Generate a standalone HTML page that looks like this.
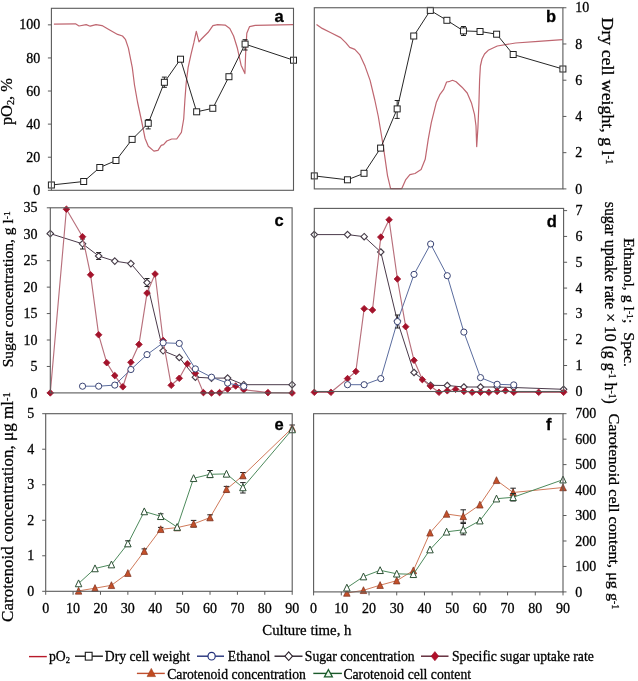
<!DOCTYPE html>
<html><head><meta charset="utf-8"><title>Figure</title>
<style>html,body{margin:0;padding:0;background:#fff;width:638px;height:681px;overflow:hidden;position:relative}
svg text{fill:#000;stroke:#000;stroke-width:0.28px} svg{will-change:transform}</style></head><body>
<svg width="638" height="681" viewBox="0 0 638 681" style="position:absolute;left:0;top:0">
<rect width="638" height="681" fill="#fff"/>
<path d="M47.90 190.30H51.4" stroke="#5a5a5a" stroke-width="1"/>
<text x="40.20" y="194.90" font-family='"Liberation Serif", serif' font-size="14.0" text-anchor="end" font-weight="normal" >0</text>
<path d="M47.90 157.21H51.4" stroke="#5a5a5a" stroke-width="1"/>
<text x="40.20" y="161.81" font-family='"Liberation Serif", serif' font-size="14.0" text-anchor="end" font-weight="normal" >20</text>
<path d="M47.90 124.12H51.4" stroke="#5a5a5a" stroke-width="1"/>
<text x="40.20" y="128.72" font-family='"Liberation Serif", serif' font-size="14.0" text-anchor="end" font-weight="normal" >40</text>
<path d="M47.90 91.03H51.4" stroke="#5a5a5a" stroke-width="1"/>
<text x="40.20" y="95.63" font-family='"Liberation Serif", serif' font-size="14.0" text-anchor="end" font-weight="normal" >60</text>
<path d="M47.90 57.94H51.4" stroke="#5a5a5a" stroke-width="1"/>
<text x="40.20" y="62.54" font-family='"Liberation Serif", serif' font-size="14.0" text-anchor="end" font-weight="normal" >80</text>
<path d="M47.90 24.85H51.4" stroke="#5a5a5a" stroke-width="1"/>
<text x="40.20" y="29.45" font-family='"Liberation Serif", serif' font-size="14.0" text-anchor="end" font-weight="normal" >100</text>
<polyline points="53.90,24.20 75.50,23.80 79.00,26.00 86.20,24.60 90.20,26.20 96.00,24.60 102.00,25.60 108.80,29.50 117.60,34.40 122.50,36.00 125.40,39.30 128.40,48.10 132.30,67.70 134.50,85.00 137.50,102.00 141.80,122.00 145.00,138.20 148.30,146.20 153.90,151.10 158.00,150.30 161.20,145.40 163.60,144.60 166.80,141.00 171.70,139.00 176.70,139.00 181.40,132.40 183.70,119.00 184.90,100.00 186.20,82.90 188.10,67.60 191.00,54.30 193.80,42.90 196.30,31.40 199.00,41.90 201.40,39.00 208.20,32.30 212.90,25.70 217.60,24.70 225.10,25.10 229.80,28.50 233.60,36.00 237.40,48.30 241.10,65.20 244.90,73.60 245.80,50.10 246.80,33.20 249.60,26.60 255.20,25.30 293.00,24.70" fill="none" stroke="#bf6670" stroke-width="1.2" stroke-linejoin="round"/>
<polyline points="51.40,185.00 83.68,181.50 99.82,167.50 115.96,160.50 132.10,139.40 148.24,123.30 164.38,82.30 180.52,59.20 196.66,111.80 212.80,108.30 228.94,76.70 245.08,44.10 293.50,60.20" fill="none" stroke="#262626" stroke-width="1.0" stroke-linejoin="round"/>
<path d="M148.24 119.50V128.90M145.74 119.50H150.74M145.74 128.90H150.74" stroke="#222" stroke-width="1" fill="none"/>
<path d="M164.38 77.10V87.30M161.88 77.10H166.88M161.88 87.30H166.88" stroke="#222" stroke-width="1" fill="none"/>
<path d="M245.08 39.70V50.00M242.58 39.70H247.58M242.58 50.00H247.58" stroke="#222" stroke-width="1" fill="none"/>
<rect x="48.40" y="182.00" width="6" height="6" fill="#fff" stroke="#222" stroke-width="1"/>
<rect x="80.68" y="178.50" width="6" height="6" fill="#fff" stroke="#222" stroke-width="1"/>
<rect x="96.82" y="164.50" width="6" height="6" fill="#fff" stroke="#222" stroke-width="1"/>
<rect x="112.96" y="157.50" width="6" height="6" fill="#fff" stroke="#222" stroke-width="1"/>
<rect x="129.10" y="136.40" width="6" height="6" fill="#fff" stroke="#222" stroke-width="1"/>
<rect x="145.24" y="120.30" width="6" height="6" fill="#fff" stroke="#222" stroke-width="1"/>
<rect x="161.38" y="79.30" width="6" height="6" fill="#fff" stroke="#222" stroke-width="1"/>
<rect x="177.52" y="56.20" width="6" height="6" fill="#fff" stroke="#222" stroke-width="1"/>
<rect x="193.66" y="108.80" width="6" height="6" fill="#fff" stroke="#222" stroke-width="1"/>
<rect x="209.80" y="105.30" width="6" height="6" fill="#fff" stroke="#222" stroke-width="1"/>
<rect x="225.94" y="73.70" width="6" height="6" fill="#fff" stroke="#222" stroke-width="1"/>
<rect x="242.08" y="41.10" width="6" height="6" fill="#fff" stroke="#222" stroke-width="1"/>
<rect x="290.50" y="57.20" width="6" height="6" fill="#fff" stroke="#222" stroke-width="1"/>
<rect x="51.4" y="8.3" width="242.10" height="182.00" fill="none" stroke="#5a5a5a" stroke-width="1.1"/>
<text x="283.80" y="22.00" font-family='"Liberation Sans", sans-serif' font-size="16.5" text-anchor="end" font-weight="bold" >a</text>
<path d="M562.90 188.90H566.40" stroke="#5a5a5a" stroke-width="1"/>
<text x="575.30" y="193.50" font-family='"Liberation Serif", serif' font-size="14.0" text-anchor="start" font-weight="normal" >0</text>
<path d="M562.90 152.67H566.40" stroke="#5a5a5a" stroke-width="1"/>
<text x="575.30" y="157.27" font-family='"Liberation Serif", serif' font-size="14.0" text-anchor="start" font-weight="normal" >2</text>
<path d="M562.90 116.44H566.40" stroke="#5a5a5a" stroke-width="1"/>
<text x="575.30" y="121.04" font-family='"Liberation Serif", serif' font-size="14.0" text-anchor="start" font-weight="normal" >4</text>
<path d="M562.90 80.21H566.40" stroke="#5a5a5a" stroke-width="1"/>
<text x="575.30" y="84.81" font-family='"Liberation Serif", serif' font-size="14.0" text-anchor="start" font-weight="normal" >6</text>
<path d="M562.90 43.98H566.40" stroke="#5a5a5a" stroke-width="1"/>
<text x="575.30" y="48.58" font-family='"Liberation Serif", serif' font-size="14.0" text-anchor="start" font-weight="normal" >8</text>
<path d="M562.90 7.75H566.40" stroke="#5a5a5a" stroke-width="1"/>
<text x="575.30" y="12.35" font-family='"Liberation Serif", serif' font-size="14.0" text-anchor="start" font-weight="normal" >10</text>
<polyline points="316.50,24.40 322.20,28.40 330.40,32.50 340.60,37.60 345.70,42.70 349.70,47.40 354.80,49.40 359.90,54.90 365.00,66.10 370.10,80.40 374.80,100.00 378.30,116.50 383.40,147.00 387.50,175.60 390.60,188.60 401.80,188.60 405.80,179.60 409.90,174.60 415.00,173.50 421.10,169.50 425.20,159.30 428.30,138.90 431.30,122.60 436.40,102.20 440.00,94.30 443.70,89.40 446.60,82.00 448.80,81.70 452.50,80.30 456.10,81.70 462.00,87.20 467.20,93.00 471.60,103.30 474.50,114.30 476.00,126.00 476.70,146.60 477.90,128.00 478.90,104.00 479.60,80.00 480.40,66.00 482.00,59.00 484.50,54.00 488.20,50.30 497.30,46.00 515.60,43.00 538.30,41.30 562.60,39.60" fill="none" stroke="#bf6670" stroke-width="1.2" stroke-linejoin="round"/>
<polyline points="314.30,175.90 347.45,179.80 364.02,173.30 380.59,148.10 397.17,108.90 413.74,36.00 430.31,10.40 446.89,20.30 463.46,30.90 480.03,31.50 496.61,34.20 513.18,54.50 562.90,69.00" fill="none" stroke="#262626" stroke-width="1.0" stroke-linejoin="round"/>
<path d="M397.17 100.50V118.40M394.67 100.50H399.67M394.67 118.40H399.67" stroke="#222" stroke-width="1" fill="none"/>
<path d="M463.46 26.50V35.50M460.96 26.50H465.96M460.96 35.50H465.96" stroke="#222" stroke-width="1" fill="none"/>
<rect x="311.30" y="172.90" width="6" height="6" fill="#fff" stroke="#222" stroke-width="1"/>
<rect x="344.45" y="176.80" width="6" height="6" fill="#fff" stroke="#222" stroke-width="1"/>
<rect x="361.02" y="170.30" width="6" height="6" fill="#fff" stroke="#222" stroke-width="1"/>
<rect x="377.59" y="145.10" width="6" height="6" fill="#fff" stroke="#222" stroke-width="1"/>
<rect x="394.17" y="105.90" width="6" height="6" fill="#fff" stroke="#222" stroke-width="1"/>
<rect x="410.74" y="33.00" width="6" height="6" fill="#fff" stroke="#222" stroke-width="1"/>
<rect x="427.31" y="7.40" width="6" height="6" fill="#fff" stroke="#222" stroke-width="1"/>
<rect x="443.89" y="17.30" width="6" height="6" fill="#fff" stroke="#222" stroke-width="1"/>
<rect x="460.46" y="27.90" width="6" height="6" fill="#fff" stroke="#222" stroke-width="1"/>
<rect x="477.03" y="28.50" width="6" height="6" fill="#fff" stroke="#222" stroke-width="1"/>
<rect x="493.61" y="31.20" width="6" height="6" fill="#fff" stroke="#222" stroke-width="1"/>
<rect x="510.18" y="51.50" width="6" height="6" fill="#fff" stroke="#222" stroke-width="1"/>
<rect x="559.90" y="66.00" width="6" height="6" fill="#fff" stroke="#222" stroke-width="1"/>
<rect x="314.3" y="7.75" width="248.60" height="181.15" fill="none" stroke="#5a5a5a" stroke-width="1.1"/>
<text x="556.20" y="22.00" font-family='"Liberation Sans", sans-serif' font-size="16.5" text-anchor="end" font-weight="bold" >b</text>
<path d="M46.80 392.90H50.3" stroke="#5a5a5a" stroke-width="1"/>
<text x="37.60" y="397.50" font-family='"Liberation Serif", serif' font-size="14.0" text-anchor="end" font-weight="normal" >0</text>
<path d="M46.80 366.46H50.3" stroke="#5a5a5a" stroke-width="1"/>
<text x="37.60" y="371.06" font-family='"Liberation Serif", serif' font-size="14.0" text-anchor="end" font-weight="normal" >5</text>
<path d="M46.80 340.01H50.3" stroke="#5a5a5a" stroke-width="1"/>
<text x="37.60" y="344.61" font-family='"Liberation Serif", serif' font-size="14.0" text-anchor="end" font-weight="normal" >10</text>
<path d="M46.80 313.57H50.3" stroke="#5a5a5a" stroke-width="1"/>
<text x="37.60" y="318.17" font-family='"Liberation Serif", serif' font-size="14.0" text-anchor="end" font-weight="normal" >15</text>
<path d="M46.80 287.13H50.3" stroke="#5a5a5a" stroke-width="1"/>
<text x="37.60" y="291.73" font-family='"Liberation Serif", serif' font-size="14.0" text-anchor="end" font-weight="normal" >20</text>
<path d="M46.80 260.69H50.3" stroke="#5a5a5a" stroke-width="1"/>
<text x="37.60" y="265.29" font-family='"Liberation Serif", serif' font-size="14.0" text-anchor="end" font-weight="normal" >25</text>
<path d="M46.80 234.24H50.3" stroke="#5a5a5a" stroke-width="1"/>
<text x="37.60" y="238.84" font-family='"Liberation Serif", serif' font-size="14.0" text-anchor="end" font-weight="normal" >30</text>
<path d="M46.80 207.80H50.3" stroke="#5a5a5a" stroke-width="1"/>
<text x="37.60" y="212.40" font-family='"Liberation Serif", serif' font-size="14.0" text-anchor="end" font-weight="normal" >35</text>
<polyline points="50.30,233.60 82.54,243.80 98.66,256.00 114.78,261.10 130.90,263.60 147.02,282.60 163.14,350.80 179.26,357.50 195.38,377.20 211.50,378.10 227.62,378.10 243.74,384.70 292.10,384.70" fill="none" stroke="#4a3a4a" stroke-width="1.0" stroke-linejoin="round"/>
<path d="M82.54 239.00V249.00M80.04 239.00H85.04M80.04 249.00H85.04" stroke="#222" stroke-width="1" fill="none"/>
<path d="M98.66 252.50V259.50M96.16 252.50H101.16M96.16 259.50H101.16" stroke="#222" stroke-width="1" fill="none"/>
<path d="M147.02 278.50V286.50M144.52 278.50H149.52M144.52 286.50H149.52" stroke="#222" stroke-width="1" fill="none"/>
<path d="M50.30 230.35L53.55 233.60L50.30 236.85L47.05 233.60Z" fill="#fff" stroke="#463c48" stroke-width="1.1"/>
<path d="M82.54 240.55L85.79 243.80L82.54 247.05L79.29 243.80Z" fill="#fff" stroke="#463c48" stroke-width="1.1"/>
<path d="M98.66 252.75L101.91 256.00L98.66 259.25L95.41 256.00Z" fill="#fff" stroke="#463c48" stroke-width="1.1"/>
<path d="M114.78 257.85L118.03 261.10L114.78 264.35L111.53 261.10Z" fill="#fff" stroke="#463c48" stroke-width="1.1"/>
<path d="M130.90 260.35L134.15 263.60L130.90 266.85L127.65 263.60Z" fill="#fff" stroke="#463c48" stroke-width="1.1"/>
<path d="M147.02 279.35L150.27 282.60L147.02 285.85L143.77 282.60Z" fill="#fff" stroke="#463c48" stroke-width="1.1"/>
<path d="M163.14 347.55L166.39 350.80L163.14 354.05L159.89 350.80Z" fill="#fff" stroke="#463c48" stroke-width="1.1"/>
<path d="M179.26 354.25L182.51 357.50L179.26 360.75L176.01 357.50Z" fill="#fff" stroke="#463c48" stroke-width="1.1"/>
<path d="M195.38 373.95L198.63 377.20L195.38 380.45L192.13 377.20Z" fill="#fff" stroke="#463c48" stroke-width="1.1"/>
<path d="M211.50 374.85L214.75 378.10L211.50 381.35L208.25 378.10Z" fill="#fff" stroke="#463c48" stroke-width="1.1"/>
<path d="M227.62 374.85L230.87 378.10L227.62 381.35L224.37 378.10Z" fill="#fff" stroke="#463c48" stroke-width="1.1"/>
<path d="M243.74 381.45L246.99 384.70L243.74 387.95L240.49 384.70Z" fill="#fff" stroke="#463c48" stroke-width="1.1"/>
<path d="M292.10 381.45L295.35 384.70L292.10 387.95L288.85 384.70Z" fill="#fff" stroke="#463c48" stroke-width="1.1"/>
<polyline points="50.30,392.90 66.42,209.20 82.54,236.70 90.60,274.80 98.66,334.80 106.72,362.70 114.78,375.60 122.84,386.80 130.90,362.30 138.96,344.40 147.02,293.10 155.08,274.00 163.14,340.50 171.20,385.30 179.26,378.30 187.32,363.80 195.38,373.30 203.44,392.60 211.50,393.00 219.56,392.60 227.62,389.10 235.68,386.00 243.74,389.70 267.92,392.60 292.10,393.00" fill="none" stroke="#b8707c" stroke-width="1.15" stroke-linejoin="round"/>
<path d="M50.30 389.60L53.60 392.90L50.30 396.20L47.00 392.90Z" fill="#a3132b" stroke="#a3132b" stroke-width="0.8"/>
<path d="M66.42 205.90L69.72 209.20L66.42 212.50L63.12 209.20Z" fill="#a3132b" stroke="#a3132b" stroke-width="0.8"/>
<path d="M82.54 233.40L85.84 236.70L82.54 240.00L79.24 236.70Z" fill="#a3132b" stroke="#a3132b" stroke-width="0.8"/>
<path d="M90.60 271.50L93.90 274.80L90.60 278.10L87.30 274.80Z" fill="#a3132b" stroke="#a3132b" stroke-width="0.8"/>
<path d="M98.66 331.50L101.96 334.80L98.66 338.10L95.36 334.80Z" fill="#a3132b" stroke="#a3132b" stroke-width="0.8"/>
<path d="M106.72 359.40L110.02 362.70L106.72 366.00L103.42 362.70Z" fill="#a3132b" stroke="#a3132b" stroke-width="0.8"/>
<path d="M114.78 372.30L118.08 375.60L114.78 378.90L111.48 375.60Z" fill="#a3132b" stroke="#a3132b" stroke-width="0.8"/>
<path d="M122.84 383.50L126.14 386.80L122.84 390.10L119.54 386.80Z" fill="#a3132b" stroke="#a3132b" stroke-width="0.8"/>
<path d="M130.90 359.00L134.20 362.30L130.90 365.60L127.60 362.30Z" fill="#a3132b" stroke="#a3132b" stroke-width="0.8"/>
<path d="M138.96 341.10L142.26 344.40L138.96 347.70L135.66 344.40Z" fill="#a3132b" stroke="#a3132b" stroke-width="0.8"/>
<path d="M147.02 289.80L150.32 293.10L147.02 296.40L143.72 293.10Z" fill="#a3132b" stroke="#a3132b" stroke-width="0.8"/>
<path d="M155.08 270.70L158.38 274.00L155.08 277.30L151.78 274.00Z" fill="#a3132b" stroke="#a3132b" stroke-width="0.8"/>
<path d="M163.14 337.20L166.44 340.50L163.14 343.80L159.84 340.50Z" fill="#a3132b" stroke="#a3132b" stroke-width="0.8"/>
<path d="M171.20 382.00L174.50 385.30L171.20 388.60L167.90 385.30Z" fill="#a3132b" stroke="#a3132b" stroke-width="0.8"/>
<path d="M179.26 375.00L182.56 378.30L179.26 381.60L175.96 378.30Z" fill="#a3132b" stroke="#a3132b" stroke-width="0.8"/>
<path d="M187.32 360.50L190.62 363.80L187.32 367.10L184.02 363.80Z" fill="#a3132b" stroke="#a3132b" stroke-width="0.8"/>
<path d="M195.38 370.00L198.68 373.30L195.38 376.60L192.08 373.30Z" fill="#a3132b" stroke="#a3132b" stroke-width="0.8"/>
<path d="M203.44 389.30L206.74 392.60L203.44 395.90L200.14 392.60Z" fill="#a3132b" stroke="#a3132b" stroke-width="0.8"/>
<path d="M211.50 389.70L214.80 393.00L211.50 396.30L208.20 393.00Z" fill="#a3132b" stroke="#a3132b" stroke-width="0.8"/>
<path d="M219.56 389.30L222.86 392.60L219.56 395.90L216.26 392.60Z" fill="#a3132b" stroke="#a3132b" stroke-width="0.8"/>
<path d="M227.62 385.80L230.92 389.10L227.62 392.40L224.32 389.10Z" fill="#a3132b" stroke="#a3132b" stroke-width="0.8"/>
<path d="M235.68 382.70L238.98 386.00L235.68 389.30L232.38 386.00Z" fill="#a3132b" stroke="#a3132b" stroke-width="0.8"/>
<path d="M243.74 386.40L247.04 389.70L243.74 393.00L240.44 389.70Z" fill="#a3132b" stroke="#a3132b" stroke-width="0.8"/>
<path d="M267.92 389.30L271.22 392.60L267.92 395.90L264.62 392.60Z" fill="#a3132b" stroke="#a3132b" stroke-width="0.8"/>
<path d="M292.10 389.70L295.40 393.00L292.10 396.30L288.80 393.00Z" fill="#a3132b" stroke="#a3132b" stroke-width="0.8"/>
<polyline points="82.54,386.20 98.66,386.20 114.78,385.10 130.90,369.50 147.02,354.60 163.14,342.80 179.26,343.40 195.38,368.90 211.50,377.20 227.62,383.10 243.74,386.40" fill="none" stroke="#5a6c9e" stroke-width="1.0" stroke-linejoin="round"/>
<circle cx="82.54" cy="386.20" r="3.1" fill="#fff" stroke="#3a4474" stroke-width="1"/>
<circle cx="98.66" cy="386.20" r="3.1" fill="#fff" stroke="#3a4474" stroke-width="1"/>
<circle cx="114.78" cy="385.10" r="3.1" fill="#fff" stroke="#3a4474" stroke-width="1"/>
<circle cx="130.90" cy="369.50" r="3.1" fill="#fff" stroke="#3a4474" stroke-width="1"/>
<circle cx="147.02" cy="354.60" r="3.1" fill="#fff" stroke="#3a4474" stroke-width="1"/>
<circle cx="163.14" cy="342.80" r="3.1" fill="#fff" stroke="#3a4474" stroke-width="1"/>
<circle cx="179.26" cy="343.40" r="3.1" fill="#fff" stroke="#3a4474" stroke-width="1"/>
<circle cx="195.38" cy="368.90" r="3.1" fill="#fff" stroke="#3a4474" stroke-width="1"/>
<circle cx="211.50" cy="377.20" r="3.1" fill="#fff" stroke="#3a4474" stroke-width="1"/>
<circle cx="227.62" cy="383.10" r="3.1" fill="#fff" stroke="#3a4474" stroke-width="1"/>
<circle cx="243.74" cy="386.40" r="3.1" fill="#fff" stroke="#3a4474" stroke-width="1"/>
<rect x="50.3" y="207.8" width="241.80" height="185.10" fill="none" stroke="#5a5a5a" stroke-width="1.1"/>
<text x="283.80" y="226.40" font-family='"Liberation Sans", sans-serif' font-size="16.5" text-anchor="end" font-weight="bold" >c</text>
<path d="M563.60 391.35H567.10" stroke="#5a5a5a" stroke-width="1"/>
<text x="575.50" y="395.95" font-family='"Liberation Serif", serif' font-size="14.0" text-anchor="start" font-weight="normal" >0</text>
<path d="M563.60 365.53H567.10" stroke="#5a5a5a" stroke-width="1"/>
<text x="575.50" y="370.13" font-family='"Liberation Serif", serif' font-size="14.0" text-anchor="start" font-weight="normal" >1</text>
<path d="M563.60 339.71H567.10" stroke="#5a5a5a" stroke-width="1"/>
<text x="575.50" y="344.31" font-family='"Liberation Serif", serif' font-size="14.0" text-anchor="start" font-weight="normal" >2</text>
<path d="M563.60 313.89H567.10" stroke="#5a5a5a" stroke-width="1"/>
<text x="575.50" y="318.49" font-family='"Liberation Serif", serif' font-size="14.0" text-anchor="start" font-weight="normal" >3</text>
<path d="M563.60 288.07H567.10" stroke="#5a5a5a" stroke-width="1"/>
<text x="575.50" y="292.67" font-family='"Liberation Serif", serif' font-size="14.0" text-anchor="start" font-weight="normal" >4</text>
<path d="M563.60 262.25H567.10" stroke="#5a5a5a" stroke-width="1"/>
<text x="575.50" y="266.85" font-family='"Liberation Serif", serif' font-size="14.0" text-anchor="start" font-weight="normal" >5</text>
<path d="M563.60 236.43H567.10" stroke="#5a5a5a" stroke-width="1"/>
<text x="575.50" y="241.03" font-family='"Liberation Serif", serif' font-size="14.0" text-anchor="start" font-weight="normal" >6</text>
<path d="M563.60 210.61H567.10" stroke="#5a5a5a" stroke-width="1"/>
<text x="575.50" y="215.21" font-family='"Liberation Serif", serif' font-size="14.0" text-anchor="start" font-weight="normal" >7</text>
<polyline points="314.30,234.60 347.54,234.60 364.16,236.70 380.78,252.00 397.40,321.00 414.02,372.50 430.64,385.30 447.26,385.50 463.88,387.00 480.50,387.00 497.12,387.00 513.74,387.50 563.60,389.30" fill="none" stroke="#4a3a4a" stroke-width="1.0" stroke-linejoin="round"/>
<path d="M314.30 231.35L317.55 234.60L314.30 237.85L311.05 234.60Z" fill="#fff" stroke="#463c48" stroke-width="1.1"/>
<path d="M347.54 231.35L350.79 234.60L347.54 237.85L344.29 234.60Z" fill="#fff" stroke="#463c48" stroke-width="1.1"/>
<path d="M364.16 233.45L367.41 236.70L364.16 239.95L360.91 236.70Z" fill="#fff" stroke="#463c48" stroke-width="1.1"/>
<path d="M380.78 248.75L384.03 252.00L380.78 255.25L377.53 252.00Z" fill="#fff" stroke="#463c48" stroke-width="1.1"/>
<path d="M397.40 317.75L400.65 321.00L397.40 324.25L394.15 321.00Z" fill="#fff" stroke="#463c48" stroke-width="1.1"/>
<path d="M414.02 369.25L417.27 372.50L414.02 375.75L410.77 372.50Z" fill="#fff" stroke="#463c48" stroke-width="1.1"/>
<path d="M430.64 382.05L433.89 385.30L430.64 388.55L427.39 385.30Z" fill="#fff" stroke="#463c48" stroke-width="1.1"/>
<path d="M447.26 382.25L450.51 385.50L447.26 388.75L444.01 385.50Z" fill="#fff" stroke="#463c48" stroke-width="1.1"/>
<path d="M463.88 383.75L467.13 387.00L463.88 390.25L460.63 387.00Z" fill="#fff" stroke="#463c48" stroke-width="1.1"/>
<path d="M480.50 383.75L483.75 387.00L480.50 390.25L477.25 387.00Z" fill="#fff" stroke="#463c48" stroke-width="1.1"/>
<path d="M497.12 383.75L500.37 387.00L497.12 390.25L493.87 387.00Z" fill="#fff" stroke="#463c48" stroke-width="1.1"/>
<path d="M513.74 384.25L516.99 387.50L513.74 390.75L510.49 387.50Z" fill="#fff" stroke="#463c48" stroke-width="1.1"/>
<path d="M563.60 386.05L566.85 389.30L563.60 392.55L560.35 389.30Z" fill="#fff" stroke="#463c48" stroke-width="1.1"/>
<polyline points="314.30,392.30 330.92,392.30 347.54,378.60 355.85,371.50 364.16,308.70 372.47,310.00 380.78,237.10 389.09,219.80 397.40,279.00 405.71,326.70 414.02,360.30 422.33,379.60 430.64,386.20 438.95,392.30 447.26,390.80 455.57,389.30 463.88,391.40 472.19,392.30 480.50,392.30 488.81,392.30 497.12,391.40 505.43,390.80 513.74,392.30 538.67,392.30 563.60,392.30" fill="none" stroke="#b8707c" stroke-width="1.15" stroke-linejoin="round"/>
<path d="M314.30 389.00L317.60 392.30L314.30 395.60L311.00 392.30Z" fill="#a3132b" stroke="#a3132b" stroke-width="0.8"/>
<path d="M330.92 389.00L334.22 392.30L330.92 395.60L327.62 392.30Z" fill="#a3132b" stroke="#a3132b" stroke-width="0.8"/>
<path d="M347.54 375.30L350.84 378.60L347.54 381.90L344.24 378.60Z" fill="#a3132b" stroke="#a3132b" stroke-width="0.8"/>
<path d="M355.85 368.20L359.15 371.50L355.85 374.80L352.55 371.50Z" fill="#a3132b" stroke="#a3132b" stroke-width="0.8"/>
<path d="M364.16 305.40L367.46 308.70L364.16 312.00L360.86 308.70Z" fill="#a3132b" stroke="#a3132b" stroke-width="0.8"/>
<path d="M372.47 306.70L375.77 310.00L372.47 313.30L369.17 310.00Z" fill="#a3132b" stroke="#a3132b" stroke-width="0.8"/>
<path d="M380.78 233.80L384.08 237.10L380.78 240.40L377.48 237.10Z" fill="#a3132b" stroke="#a3132b" stroke-width="0.8"/>
<path d="M389.09 216.50L392.39 219.80L389.09 223.10L385.79 219.80Z" fill="#a3132b" stroke="#a3132b" stroke-width="0.8"/>
<path d="M397.40 275.70L400.70 279.00L397.40 282.30L394.10 279.00Z" fill="#a3132b" stroke="#a3132b" stroke-width="0.8"/>
<path d="M405.71 323.40L409.01 326.70L405.71 330.00L402.41 326.70Z" fill="#a3132b" stroke="#a3132b" stroke-width="0.8"/>
<path d="M414.02 357.00L417.32 360.30L414.02 363.60L410.72 360.30Z" fill="#a3132b" stroke="#a3132b" stroke-width="0.8"/>
<path d="M422.33 376.30L425.63 379.60L422.33 382.90L419.03 379.60Z" fill="#a3132b" stroke="#a3132b" stroke-width="0.8"/>
<path d="M430.64 382.90L433.94 386.20L430.64 389.50L427.34 386.20Z" fill="#a3132b" stroke="#a3132b" stroke-width="0.8"/>
<path d="M438.95 389.00L442.25 392.30L438.95 395.60L435.65 392.30Z" fill="#a3132b" stroke="#a3132b" stroke-width="0.8"/>
<path d="M447.26 387.50L450.56 390.80L447.26 394.10L443.96 390.80Z" fill="#a3132b" stroke="#a3132b" stroke-width="0.8"/>
<path d="M455.57 386.00L458.87 389.30L455.57 392.60L452.27 389.30Z" fill="#a3132b" stroke="#a3132b" stroke-width="0.8"/>
<path d="M463.88 388.10L467.18 391.40L463.88 394.70L460.58 391.40Z" fill="#a3132b" stroke="#a3132b" stroke-width="0.8"/>
<path d="M472.19 389.00L475.49 392.30L472.19 395.60L468.89 392.30Z" fill="#a3132b" stroke="#a3132b" stroke-width="0.8"/>
<path d="M480.50 389.00L483.80 392.30L480.50 395.60L477.20 392.30Z" fill="#a3132b" stroke="#a3132b" stroke-width="0.8"/>
<path d="M488.81 389.00L492.11 392.30L488.81 395.60L485.51 392.30Z" fill="#a3132b" stroke="#a3132b" stroke-width="0.8"/>
<path d="M497.12 388.10L500.42 391.40L497.12 394.70L493.82 391.40Z" fill="#a3132b" stroke="#a3132b" stroke-width="0.8"/>
<path d="M505.43 387.50L508.73 390.80L505.43 394.10L502.13 390.80Z" fill="#a3132b" stroke="#a3132b" stroke-width="0.8"/>
<path d="M513.74 389.00L517.04 392.30L513.74 395.60L510.44 392.30Z" fill="#a3132b" stroke="#a3132b" stroke-width="0.8"/>
<path d="M538.67 389.00L541.97 392.30L538.67 395.60L535.37 392.30Z" fill="#a3132b" stroke="#a3132b" stroke-width="0.8"/>
<path d="M563.60 389.00L566.90 392.30L563.60 395.60L560.30 392.30Z" fill="#a3132b" stroke="#a3132b" stroke-width="0.8"/>
<polyline points="347.54,384.70 364.16,384.70 380.78,378.60 397.40,321.60 414.02,274.40 430.64,244.00 447.26,275.70 463.88,332.10 480.50,377.60 497.12,384.30 513.74,384.90" fill="none" stroke="#5a6c9e" stroke-width="1.0" stroke-linejoin="round"/>
<path d="M397.40 315.00V328.00M394.90 315.00H399.90M394.90 328.00H399.90" stroke="#222" stroke-width="1" fill="none"/>
<circle cx="347.54" cy="384.70" r="3.1" fill="#fff" stroke="#3a4474" stroke-width="1"/>
<circle cx="364.16" cy="384.70" r="3.1" fill="#fff" stroke="#3a4474" stroke-width="1"/>
<circle cx="380.78" cy="378.60" r="3.1" fill="#fff" stroke="#3a4474" stroke-width="1"/>
<circle cx="397.40" cy="321.60" r="3.1" fill="#fff" stroke="#3a4474" stroke-width="1"/>
<circle cx="414.02" cy="274.40" r="3.1" fill="#fff" stroke="#3a4474" stroke-width="1"/>
<circle cx="430.64" cy="244.00" r="3.1" fill="#fff" stroke="#3a4474" stroke-width="1"/>
<circle cx="447.26" cy="275.70" r="3.1" fill="#fff" stroke="#3a4474" stroke-width="1"/>
<circle cx="463.88" cy="332.10" r="3.1" fill="#fff" stroke="#3a4474" stroke-width="1"/>
<circle cx="480.50" cy="377.60" r="3.1" fill="#fff" stroke="#3a4474" stroke-width="1"/>
<circle cx="497.12" cy="384.30" r="3.1" fill="#fff" stroke="#3a4474" stroke-width="1"/>
<circle cx="513.74" cy="384.90" r="3.1" fill="#fff" stroke="#3a4474" stroke-width="1"/>
<rect x="314.3" y="208.4" width="249.30" height="183.10" fill="none" stroke="#5a5a5a" stroke-width="1.1"/>
<text x="556.80" y="227.00" font-family='"Liberation Sans", sans-serif' font-size="16.5" text-anchor="end" font-weight="bold" >d</text>
<path d="M42.20 591.30H45.7" stroke="#5a5a5a" stroke-width="1"/>
<text x="34.20" y="595.90" font-family='"Liberation Serif", serif' font-size="14.0" text-anchor="end" font-weight="normal" >0</text>
<path d="M42.20 555.78H45.7" stroke="#5a5a5a" stroke-width="1"/>
<text x="34.20" y="560.38" font-family='"Liberation Serif", serif' font-size="14.0" text-anchor="end" font-weight="normal" >1</text>
<path d="M42.20 520.26H45.7" stroke="#5a5a5a" stroke-width="1"/>
<text x="34.20" y="524.86" font-family='"Liberation Serif", serif' font-size="14.0" text-anchor="end" font-weight="normal" >2</text>
<path d="M42.20 484.74H45.7" stroke="#5a5a5a" stroke-width="1"/>
<text x="34.20" y="489.34" font-family='"Liberation Serif", serif' font-size="14.0" text-anchor="end" font-weight="normal" >3</text>
<path d="M42.20 449.22H45.7" stroke="#5a5a5a" stroke-width="1"/>
<text x="34.20" y="453.82" font-family='"Liberation Serif", serif' font-size="14.0" text-anchor="end" font-weight="normal" >4</text>
<path d="M42.20 413.70H45.7" stroke="#5a5a5a" stroke-width="1"/>
<text x="34.20" y="418.30" font-family='"Liberation Serif", serif' font-size="14.0" text-anchor="end" font-weight="normal" >5</text>
<path d="M45.70 591.30V594.80" stroke="#5a5a5a" stroke-width="1"/>
<text x="45.70" y="612.60" font-family='"Liberation Serif", serif' font-size="14.0" text-anchor="middle" font-weight="normal" >0</text>
<path d="M73.09 591.30V594.80" stroke="#5a5a5a" stroke-width="1"/>
<text x="73.09" y="612.60" font-family='"Liberation Serif", serif' font-size="14.0" text-anchor="middle" font-weight="normal" >10</text>
<path d="M100.48 591.30V594.80" stroke="#5a5a5a" stroke-width="1"/>
<text x="100.48" y="612.60" font-family='"Liberation Serif", serif' font-size="14.0" text-anchor="middle" font-weight="normal" >20</text>
<path d="M127.87 591.30V594.80" stroke="#5a5a5a" stroke-width="1"/>
<text x="127.87" y="612.60" font-family='"Liberation Serif", serif' font-size="14.0" text-anchor="middle" font-weight="normal" >30</text>
<path d="M155.26 591.30V594.80" stroke="#5a5a5a" stroke-width="1"/>
<text x="155.26" y="612.60" font-family='"Liberation Serif", serif' font-size="14.0" text-anchor="middle" font-weight="normal" >40</text>
<path d="M182.64 591.30V594.80" stroke="#5a5a5a" stroke-width="1"/>
<text x="182.64" y="612.60" font-family='"Liberation Serif", serif' font-size="14.0" text-anchor="middle" font-weight="normal" >50</text>
<path d="M210.03 591.30V594.80" stroke="#5a5a5a" stroke-width="1"/>
<text x="210.03" y="612.60" font-family='"Liberation Serif", serif' font-size="14.0" text-anchor="middle" font-weight="normal" >60</text>
<path d="M237.42 591.30V594.80" stroke="#5a5a5a" stroke-width="1"/>
<text x="237.42" y="612.60" font-family='"Liberation Serif", serif' font-size="14.0" text-anchor="middle" font-weight="normal" >70</text>
<path d="M264.81 591.30V594.80" stroke="#5a5a5a" stroke-width="1"/>
<text x="264.81" y="612.60" font-family='"Liberation Serif", serif' font-size="14.0" text-anchor="middle" font-weight="normal" >80</text>
<path d="M292.20 591.30V594.80" stroke="#5a5a5a" stroke-width="1"/>
<text x="292.20" y="612.60" font-family='"Liberation Serif", serif' font-size="14.0" text-anchor="middle" font-weight="normal" >90</text>
<polyline points="78.57,590.90 95.00,588.20 111.43,585.30 127.87,573.20 144.30,551.20 160.73,529.30 177.17,527.60 193.60,523.90 210.03,517.60 226.47,489.30 242.90,475.60 292.20,428.10" fill="none" stroke="#d07a5a" stroke-width="1.0" stroke-linejoin="round"/>
<path d="M144.30 548.90V553.50M141.55 548.90H147.05M141.55 553.50H147.05" stroke="#222" stroke-width="1" fill="none"/>
<path d="M160.73 527.40V531.00M157.98 527.40H163.48M157.98 531.00H163.48" stroke="#222" stroke-width="1" fill="none"/>
<path d="M193.60 520.40V527.00M190.85 520.40H196.35M190.85 527.00H196.35" stroke="#222" stroke-width="1" fill="none"/>
<path d="M210.03 514.80V520.00M207.28 514.80H212.78M207.28 520.00H212.78" stroke="#222" stroke-width="1" fill="none"/>
<path d="M226.47 486.40V492.00M223.72 486.40H229.22M223.72 492.00H229.22" stroke="#222" stroke-width="1" fill="none"/>
<path d="M242.90 472.50V478.00M240.15 472.50H245.65M240.15 478.00H245.65" stroke="#222" stroke-width="1" fill="none"/>
<path d="M292.20 425.00V431.00M289.45 425.00H294.95M289.45 431.00H294.95" stroke="#222" stroke-width="1" fill="none"/>
<path d="M78.57 587.32L81.82 594.15L75.32 594.15Z" fill="#c4502a" stroke="#7a3020" stroke-width="0.7"/>
<path d="M95.00 584.62L98.25 591.45L91.75 591.45Z" fill="#c4502a" stroke="#7a3020" stroke-width="0.7"/>
<path d="M111.43 581.72L114.68 588.55L108.18 588.55Z" fill="#c4502a" stroke="#7a3020" stroke-width="0.7"/>
<path d="M127.87 569.62L131.12 576.45L124.62 576.45Z" fill="#c4502a" stroke="#7a3020" stroke-width="0.7"/>
<path d="M144.30 547.62L147.55 554.45L141.05 554.45Z" fill="#c4502a" stroke="#7a3020" stroke-width="0.7"/>
<path d="M160.73 525.72L163.98 532.55L157.48 532.55Z" fill="#c4502a" stroke="#7a3020" stroke-width="0.7"/>
<path d="M177.17 524.02L180.42 530.85L173.92 530.85Z" fill="#c4502a" stroke="#7a3020" stroke-width="0.7"/>
<path d="M193.60 520.32L196.85 527.15L190.35 527.15Z" fill="#c4502a" stroke="#7a3020" stroke-width="0.7"/>
<path d="M210.03 514.02L213.28 520.85L206.78 520.85Z" fill="#c4502a" stroke="#7a3020" stroke-width="0.7"/>
<path d="M226.47 485.73L229.72 492.55L223.22 492.55Z" fill="#c4502a" stroke="#7a3020" stroke-width="0.7"/>
<path d="M242.90 472.03L246.15 478.85L239.65 478.85Z" fill="#c4502a" stroke="#7a3020" stroke-width="0.7"/>
<path d="M292.20 424.53L295.45 431.35L288.95 431.35Z" fill="#c4502a" stroke="#7a3020" stroke-width="0.7"/>
<polyline points="78.57,583.50 95.00,568.50 111.43,564.60 127.87,543.60 144.30,511.50 160.73,516.30 177.17,527.10 193.60,478.30 210.03,474.30 226.47,473.90 242.90,487.50 292.20,429.50" fill="none" stroke="#4d8a5c" stroke-width="1.0" stroke-linejoin="round"/>
<path d="M127.87 540.80V546.00M125.12 540.80H130.62M125.12 546.00H130.62" stroke="#222" stroke-width="1" fill="none"/>
<path d="M160.73 513.80V519.00M157.98 513.80H163.48M157.98 519.00H163.48" stroke="#222" stroke-width="1" fill="none"/>
<path d="M210.03 470.50V477.60M207.28 470.50H212.78M207.28 477.60H212.78" stroke="#222" stroke-width="1" fill="none"/>
<path d="M242.90 482.60V493.00M240.15 482.60H245.65M240.15 493.00H245.65" stroke="#222" stroke-width="1" fill="none"/>
<path d="M78.57 579.92L81.82 586.75L75.32 586.75Z" fill="#fff" stroke="#2c5034" stroke-width="1"/>
<path d="M95.00 564.92L98.25 571.75L91.75 571.75Z" fill="#fff" stroke="#2c5034" stroke-width="1"/>
<path d="M111.43 561.02L114.68 567.85L108.18 567.85Z" fill="#fff" stroke="#2c5034" stroke-width="1"/>
<path d="M127.87 540.02L131.12 546.85L124.62 546.85Z" fill="#fff" stroke="#2c5034" stroke-width="1"/>
<path d="M144.30 507.93L147.55 514.75L141.05 514.75Z" fill="#fff" stroke="#2c5034" stroke-width="1"/>
<path d="M160.73 512.72L163.98 519.55L157.48 519.55Z" fill="#fff" stroke="#2c5034" stroke-width="1"/>
<path d="M177.17 523.52L180.42 530.35L173.92 530.35Z" fill="#fff" stroke="#2c5034" stroke-width="1"/>
<path d="M193.60 474.73L196.85 481.55L190.35 481.55Z" fill="#fff" stroke="#2c5034" stroke-width="1"/>
<path d="M210.03 470.73L213.28 477.55L206.78 477.55Z" fill="#fff" stroke="#2c5034" stroke-width="1"/>
<path d="M226.47 470.32L229.72 477.15L223.22 477.15Z" fill="#fff" stroke="#2c5034" stroke-width="1"/>
<path d="M242.90 483.93L246.15 490.75L239.65 490.75Z" fill="#fff" stroke="#2c5034" stroke-width="1"/>
<path d="M292.20 425.93L295.45 432.75L288.95 432.75Z" fill="#fff" stroke="#2c5034" stroke-width="1"/>
<rect x="45.7" y="413.7" width="246.50" height="177.60" fill="none" stroke="#5a5a5a" stroke-width="1.1"/>
<text x="283.60" y="430.00" font-family='"Liberation Sans", sans-serif' font-size="16.5" text-anchor="end" font-weight="bold" >e</text>
<path d="M563.00 591.90H566.50" stroke="#5a5a5a" stroke-width="1"/>
<text x="575.20" y="596.50" font-family='"Liberation Serif", serif' font-size="14.0" text-anchor="start" font-weight="normal" >0</text>
<path d="M563.00 566.44H566.50" stroke="#5a5a5a" stroke-width="1"/>
<text x="575.20" y="571.04" font-family='"Liberation Serif", serif' font-size="14.0" text-anchor="start" font-weight="normal" >100</text>
<path d="M563.00 540.99H566.50" stroke="#5a5a5a" stroke-width="1"/>
<text x="575.20" y="545.59" font-family='"Liberation Serif", serif' font-size="14.0" text-anchor="start" font-weight="normal" >200</text>
<path d="M563.00 515.53H566.50" stroke="#5a5a5a" stroke-width="1"/>
<text x="575.20" y="520.13" font-family='"Liberation Serif", serif' font-size="14.0" text-anchor="start" font-weight="normal" >300</text>
<path d="M563.00 490.07H566.50" stroke="#5a5a5a" stroke-width="1"/>
<text x="575.20" y="494.67" font-family='"Liberation Serif", serif' font-size="14.0" text-anchor="start" font-weight="normal" >400</text>
<path d="M563.00 464.61H566.50" stroke="#5a5a5a" stroke-width="1"/>
<text x="575.20" y="469.21" font-family='"Liberation Serif", serif' font-size="14.0" text-anchor="start" font-weight="normal" >500</text>
<path d="M563.00 439.16H566.50" stroke="#5a5a5a" stroke-width="1"/>
<text x="575.20" y="443.76" font-family='"Liberation Serif", serif' font-size="14.0" text-anchor="start" font-weight="normal" >600</text>
<path d="M563.00 413.70H566.50" stroke="#5a5a5a" stroke-width="1"/>
<text x="575.20" y="418.30" font-family='"Liberation Serif", serif' font-size="14.0" text-anchor="start" font-weight="normal" >700</text>
<path d="M313.60 591.90V595.40" stroke="#5a5a5a" stroke-width="1"/>
<text x="313.60" y="612.60" font-family='"Liberation Serif", serif' font-size="14.0" text-anchor="middle" font-weight="normal" >0</text>
<path d="M341.31 591.90V595.40" stroke="#5a5a5a" stroke-width="1"/>
<text x="341.31" y="612.60" font-family='"Liberation Serif", serif' font-size="14.0" text-anchor="middle" font-weight="normal" >10</text>
<path d="M369.02 591.90V595.40" stroke="#5a5a5a" stroke-width="1"/>
<text x="369.02" y="612.60" font-family='"Liberation Serif", serif' font-size="14.0" text-anchor="middle" font-weight="normal" >20</text>
<path d="M396.73 591.90V595.40" stroke="#5a5a5a" stroke-width="1"/>
<text x="396.73" y="612.60" font-family='"Liberation Serif", serif' font-size="14.0" text-anchor="middle" font-weight="normal" >30</text>
<path d="M424.44 591.90V595.40" stroke="#5a5a5a" stroke-width="1"/>
<text x="424.44" y="612.60" font-family='"Liberation Serif", serif' font-size="14.0" text-anchor="middle" font-weight="normal" >40</text>
<path d="M452.16 591.90V595.40" stroke="#5a5a5a" stroke-width="1"/>
<text x="452.16" y="612.60" font-family='"Liberation Serif", serif' font-size="14.0" text-anchor="middle" font-weight="normal" >50</text>
<path d="M479.87 591.90V595.40" stroke="#5a5a5a" stroke-width="1"/>
<text x="479.87" y="612.60" font-family='"Liberation Serif", serif' font-size="14.0" text-anchor="middle" font-weight="normal" >60</text>
<path d="M507.58 591.90V595.40" stroke="#5a5a5a" stroke-width="1"/>
<text x="507.58" y="612.60" font-family='"Liberation Serif", serif' font-size="14.0" text-anchor="middle" font-weight="normal" >70</text>
<path d="M535.29 591.90V595.40" stroke="#5a5a5a" stroke-width="1"/>
<text x="535.29" y="612.60" font-family='"Liberation Serif", serif' font-size="14.0" text-anchor="middle" font-weight="normal" >80</text>
<path d="M563.00 591.90V595.40" stroke="#5a5a5a" stroke-width="1"/>
<text x="563.00" y="612.60" font-family='"Liberation Serif", serif' font-size="14.0" text-anchor="middle" font-weight="normal" >90</text>
<polyline points="346.85,593.00 363.48,590.30 380.11,585.20 396.73,580.70 413.36,570.50 429.99,532.80 446.61,514.00 463.24,516.40 479.87,504.80 496.49,480.30 513.12,492.50 563.00,487.50" fill="none" stroke="#d07a5a" stroke-width="1.0" stroke-linejoin="round"/>
<path d="M463.24 509.80V522.30M460.49 509.80H465.99M460.49 522.30H465.99" stroke="#222" stroke-width="1" fill="none"/>
<path d="M513.12 488.20V496.00M510.37 488.20H515.87M510.37 496.00H515.87" stroke="#222" stroke-width="1" fill="none"/>
<path d="M346.85 589.42L350.10 596.25L343.60 596.25Z" fill="#c4502a" stroke="#7a3020" stroke-width="0.7"/>
<path d="M363.48 586.72L366.73 593.55L360.23 593.55Z" fill="#c4502a" stroke="#7a3020" stroke-width="0.7"/>
<path d="M380.11 581.62L383.36 588.45L376.86 588.45Z" fill="#c4502a" stroke="#7a3020" stroke-width="0.7"/>
<path d="M396.73 577.12L399.98 583.95L393.48 583.95Z" fill="#c4502a" stroke="#7a3020" stroke-width="0.7"/>
<path d="M413.36 566.92L416.61 573.75L410.11 573.75Z" fill="#c4502a" stroke="#7a3020" stroke-width="0.7"/>
<path d="M429.99 529.22L433.24 536.05L426.74 536.05Z" fill="#c4502a" stroke="#7a3020" stroke-width="0.7"/>
<path d="M446.61 510.43L449.86 517.25L443.36 517.25Z" fill="#c4502a" stroke="#7a3020" stroke-width="0.7"/>
<path d="M463.24 512.82L466.49 519.65L459.99 519.65Z" fill="#c4502a" stroke="#7a3020" stroke-width="0.7"/>
<path d="M479.87 501.23L483.12 508.05L476.62 508.05Z" fill="#c4502a" stroke="#7a3020" stroke-width="0.7"/>
<path d="M496.49 476.73L499.74 483.55L493.24 483.55Z" fill="#c4502a" stroke="#7a3020" stroke-width="0.7"/>
<path d="M513.12 488.93L516.37 495.75L509.87 495.75Z" fill="#c4502a" stroke="#7a3020" stroke-width="0.7"/>
<path d="M563.00 483.93L566.25 490.75L559.75 490.75Z" fill="#c4502a" stroke="#7a3020" stroke-width="0.7"/>
<polyline points="346.85,587.80 363.48,576.60 380.11,570.30 396.73,573.80 413.36,574.30 429.99,549.60 446.61,531.80 463.24,529.80 479.87,520.70 496.49,498.70 513.12,497.30 563.00,479.70" fill="none" stroke="#4d8a5c" stroke-width="1.0" stroke-linejoin="round"/>
<path d="M463.24 523.50V534.80M460.49 523.50H465.99M460.49 534.80H465.99" stroke="#222" stroke-width="1" fill="none"/>
<path d="M513.12 493.50V501.00M510.37 493.50H515.87M510.37 501.00H515.87" stroke="#222" stroke-width="1" fill="none"/>
<path d="M346.85 584.22L350.10 591.05L343.60 591.05Z" fill="#fff" stroke="#2c5034" stroke-width="1"/>
<path d="M363.48 573.02L366.73 579.85L360.23 579.85Z" fill="#fff" stroke="#2c5034" stroke-width="1"/>
<path d="M380.11 566.72L383.36 573.55L376.86 573.55Z" fill="#fff" stroke="#2c5034" stroke-width="1"/>
<path d="M396.73 570.22L399.98 577.05L393.48 577.05Z" fill="#fff" stroke="#2c5034" stroke-width="1"/>
<path d="M413.36 570.72L416.61 577.55L410.11 577.55Z" fill="#fff" stroke="#2c5034" stroke-width="1"/>
<path d="M429.99 546.02L433.24 552.85L426.74 552.85Z" fill="#fff" stroke="#2c5034" stroke-width="1"/>
<path d="M446.61 528.22L449.86 535.05L443.36 535.05Z" fill="#fff" stroke="#2c5034" stroke-width="1"/>
<path d="M463.24 526.22L466.49 533.05L459.99 533.05Z" fill="#fff" stroke="#2c5034" stroke-width="1"/>
<path d="M479.87 517.12L483.12 523.95L476.62 523.95Z" fill="#fff" stroke="#2c5034" stroke-width="1"/>
<path d="M496.49 495.12L499.74 501.95L493.24 501.95Z" fill="#fff" stroke="#2c5034" stroke-width="1"/>
<path d="M513.12 493.73L516.37 500.55L509.87 500.55Z" fill="#fff" stroke="#2c5034" stroke-width="1"/>
<path d="M563.00 476.12L566.25 482.95L559.75 482.95Z" fill="#fff" stroke="#2c5034" stroke-width="1"/>
<rect x="313.6" y="413.7" width="249.40" height="178.20" fill="none" stroke="#5a5a5a" stroke-width="1.1"/>
<text x="551.50" y="430.00" font-family='"Liberation Sans", sans-serif' font-size="16.5" text-anchor="end" font-weight="bold" >f</text>
<text x="0.00" y="0.00" font-family='"Liberation Serif", serif' font-size="16.4" text-anchor="middle" font-weight="normal" transform="translate(12.0,101.6) rotate(-90)">pO<tspan font-size="0.62em" dy="0.22em">2</tspan><tspan dy="-0.136em">, %</tspan></text>
<text x="0.00" y="0.00" font-family='"Liberation Serif", serif' font-size="15.5" text-anchor="middle" font-weight="normal" transform="translate(13.1,289.3) rotate(-90) scale(1,0.95)">Sugar concentration, g l<tspan font-size="0.62em" dy="-0.36em">-1</tspan></text>
<text x="0.00" y="0.00" font-family='"Liberation Serif", serif' font-size="17.03" text-anchor="middle" font-weight="normal" transform="translate(13.4,507.1) rotate(-90)">Carotenoid concentration, μg ml<tspan font-size="0.62em" dy="-0.36em">-1</tspan></text>
<text x="0.00" y="0.00" font-family='"Liberation Serif", serif' font-size="17.8" text-anchor="middle" font-weight="normal" transform="translate(602.0,91.1) rotate(90) scale(1,0.95)">Dry cell weight, g l<tspan font-size="0.62em" dy="-0.36em">-1</tspan></text>
<text x="0.00" y="0.00" font-family='"Liberation Serif", serif' font-size="15.74" text-anchor="middle" font-weight="normal" transform="translate(623.5,302.4) rotate(90) scale(1,0.9)">Ethanol, g l<tspan font-size="0.62em" dy="-0.36em">-1</tspan><tspan dy="0.2232em">;</tspan><tspan dx="9">Spec.</tspan></text>
<text x="0.00" y="0.00" font-family='"Liberation Serif", serif' font-size="15.74" text-anchor="middle" font-weight="normal" transform="translate(605.0,302.8) rotate(90)">sugar uptake rate × 10 (g g<tspan font-size="0.62em" dy="-0.36em">-1</tspan><tspan dy="0.2232em"> h</tspan><tspan font-size="0.62em" dy="-0.36em">-1</tspan><tspan dy="0.2232em">)</tspan></text>
<text x="0.00" y="0.00" font-family='"Liberation Serif", serif' font-size="16.15" text-anchor="middle" font-weight="normal" transform="translate(608.8,511.4) rotate(90) scale(1,0.96)">Carotenoid cell content, μg g<tspan font-size="0.62em" dy="-0.36em">-1</tspan></text>
<text x="306.90" y="635.10" font-family='"Liberation Serif", serif' font-size="14.8" text-anchor="middle" font-weight="normal" >Culture time, h</text>
<path d="M29 656.6H46.8" stroke="#b81a2a" stroke-width="1.4"/>
<text x="49.00" y="661.00" font-family='"Liberation Serif", serif' font-size="13.7" text-anchor="start" font-weight="normal" >pO<tspan font-size="0.62em" dy="0.22em">2</tspan></text>
<path d="M75 656.2H102.9" stroke="#1a1a1a" stroke-width="1.4"/>
<rect x="85.3" y="652.3" width="6.8" height="7.8" fill="#fff" stroke="#1a1a1a" stroke-width="1.1"/>
<text x="104.80" y="661.00" font-family='"Liberation Serif", serif' font-size="13.7" text-anchor="start" font-weight="normal" >Dry cell weight</text>
<path d="M197 656.2H224" stroke="#22307a" stroke-width="1.4"/>
<ellipse cx="211.6" cy="656.2" rx="3.6" ry="3.8" fill="#fff" stroke="#22307a" stroke-width="1.2"/>
<text x="227.80" y="661.00" font-family='"Liberation Serif", serif' font-size="13.7" text-anchor="start" font-weight="normal" >Ethanol</text>
<path d="M274.5 656.2H302.5" stroke="#2a1f2a" stroke-width="1.4"/>
<path d="M288.7 651.9L292.5 656.2L288.7 660.5L284.9 656.2Z" fill="#fff" stroke="#2a1f2a" stroke-width="1.1"/>
<text x="304.80" y="661.00" font-family='"Liberation Serif", serif' font-size="13.7" text-anchor="start" font-weight="normal" >Sugar concentration</text>
<path d="M421 656.2H448.5" stroke="#5a2030" stroke-width="1.4"/>
<path d="M434.9 651.6L438.7 656.2L434.9 660.8L431.1 656.2Z" fill="#b0102a" stroke="#a0102a" stroke-width="0.6"/>
<text x="452.00" y="661.00" font-family='"Liberation Serif", serif' font-size="13.7" text-anchor="start" font-weight="normal" >Specific sugar uptake rate</text>
<path d="M136.9 673.4H164.8" stroke="#c05030" stroke-width="1.4"/>
<path d="M151.3 668.4L155.5 676.6L147.1 676.6Z" fill="#c04a20" stroke="#a03a18" stroke-width="0.6"/>
<text x="167.20" y="679.30" font-family='"Liberation Serif", serif' font-size="13.7" text-anchor="start" font-weight="normal" >Carotenoid concentration</text>
<path d="M313.3 673.4H341.9" stroke="#1a5a2a" stroke-width="1.4"/>
<path d="M328.4 669.6L332.4 676.9L324.4 676.9Z" fill="#eaf6ea" stroke="#1a5a2a" stroke-width="1.2"/>
<text x="343.40" y="679.30" font-family='"Liberation Serif", serif' font-size="13.7" text-anchor="start" font-weight="normal" >Carotenoid cell content</text>
</svg>
</body></html>
